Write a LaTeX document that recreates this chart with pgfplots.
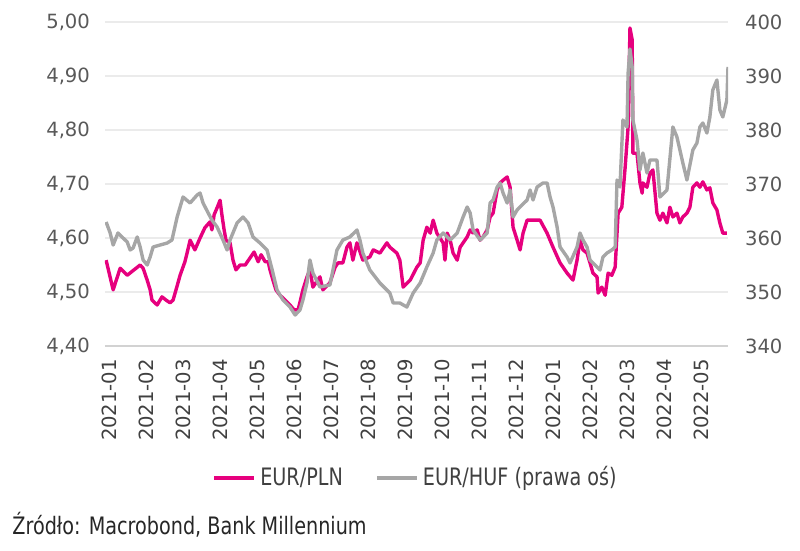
\documentclass[border=0pt]{standalone}
\usepackage{pgfplots}
\pgfplotsset{compat=1.18}
\usepackage{fontspec}
\setmainfont{DejaVu Sans}
\newfontfamily\condfont[FakeStretch=0.8]{DejaVu Sans}
\definecolor{pln}{RGB}{230,0,126}
\definecolor{huf}{RGB}{166,166,166}
\definecolor{ticktxt}{RGB}{89,89,89}
\definecolor{xtxt}{RGB}{64,64,64}
\definecolor{gridc}{RGB}{235,235,235}
\begin{document}
\begin{tikzpicture}
\path[use as bounding box] (0,0) rectangle (400pt,275.5pt);
\pgfplotsset{
  common/.style={
    scale only axis, width=311.5pt, height=162pt,
    at={(52.5pt,102.5pt)}, anchor=south west,
    xmin=-0.11, xmax=16.73,
    major tick length=0pt,
    tick label style={font=\fontsize{9.8}{12}\selectfont, text=ticktxt},
    /pgf/number format/assume math mode=true,
  }
}
\begin{axis}[common,
  ymin=4.40, ymax=5.00,
  ytick={4.40,4.50,4.60,4.70,4.80,4.90,5.00},
  yticklabel style={/pgf/number format/fixed, /pgf/number format/fixed zerofill, /pgf/number format/precision=2, /pgf/number format/use comma, xshift=-4pt},
  axis y line*=left, y axis line style={draw=none},
  axis x line*=bottom, x axis line style={draw=gray!35, line width=0.8pt},
  ymajorgrids, grid style={gridc, line width=0.8pt},
  xtick={0,...,16},
  xticklabels={2021-01,2021-02,2021-03,2021-04,2021-05,2021-06,2021-07,2021-08,2021-09,2021-10,2021-11,2021-12,2022-01,2022-02,2022-03,2022-04,2022-05},
  xticklabel style={rotate=90, anchor=east, xshift=-3pt, text=xtxt},
  legend columns=2,
  legend style={at={(0.5,-0.407)}, anchor=center, draw=none, fill=none,
    font=\condfont\fontsize{12}{14}\selectfont, text=xtxt,
    /tikz/every even column/.append style={column sep=14pt}},
  legend image code/.code={\draw[#1, line width=2pt] (0pt,0pt) -- (20pt,0pt);},
]
\addplot[pln, line width=1.7pt, line join=round] coordinates {
(-0.08,4.559)(0.11,4.504)(0.30,4.544)(0.49,4.531)(0.84,4.550)(0.92,4.544)(1.03,4.522)(1.11,4.504)(1.16,4.485)(1.30,4.476)(1.43,4.491)(1.54,4.485)(1.65,4.480)(1.73,4.485)(1.81,4.504)(1.92,4.531)(2.05,4.556)(2.14,4.581)(2.19,4.596)(2.32,4.578)(2.46,4.600)(2.59,4.619)(2.73,4.630)(2.78,4.615)(2.84,4.643)(2.95,4.661)(3.00,4.670)(3.05,4.643)(3.11,4.615)(3.16,4.596)(3.27,4.591)(3.35,4.559)(3.43,4.541)(3.54,4.550)(3.68,4.550)(3.81,4.563)(3.92,4.574)(4.03,4.556)(4.11,4.569)(4.22,4.556)(4.30,4.556)(4.35,4.541)(4.43,4.522)(4.51,4.504)(4.62,4.494)(4.76,4.485)(4.89,4.476)(5.00,4.467)(5.11,4.467)(5.16,4.481)(5.24,4.504)(5.35,4.528)(5.43,4.541)(5.51,4.509)(5.70,4.528)(5.78,4.504)(5.97,4.517)(6.11,4.546)(6.19,4.554)(6.32,4.554)(6.43,4.583)(6.51,4.591)(6.59,4.559)(6.70,4.591)(6.86,4.559)(7.05,4.565)(7.14,4.578)(7.32,4.572)(7.51,4.591)(7.59,4.583)(7.78,4.572)(7.86,4.559)(7.95,4.509)(8.14,4.522)(8.32,4.546)(8.41,4.554)(8.49,4.596)(8.59,4.620)(8.68,4.609)(8.76,4.633)(8.86,4.609)(9.03,4.591)(9.08,4.559)(9.14,4.609)(9.22,4.596)(9.30,4.572)(9.41,4.559)(9.49,4.583)(9.68,4.602)(9.76,4.615)(9.84,4.609)(9.95,4.615)(10.03,4.596)(10.11,4.602)(10.22,4.615)(10.30,4.639)(10.38,4.646)(10.49,4.689)(10.57,4.702)(10.65,4.707)(10.76,4.713)(10.84,4.694)(10.92,4.620)(11.03,4.596)(11.11,4.578)(11.19,4.609)(11.30,4.633)(11.46,4.633)(11.65,4.633)(11.84,4.609)(12.00,4.583)(12.19,4.554)(12.38,4.535)(12.54,4.522)(12.65,4.559)(12.73,4.596)(12.81,4.578)(12.92,4.572)(13.00,4.554)(13.08,4.535)(13.19,4.528)(13.22,4.498)(13.32,4.509)(13.41,4.494)(13.49,4.535)(13.59,4.531)(13.68,4.546)(13.76,4.646)(13.86,4.657)(13.95,4.731)(14.03,4.806)(14.08,4.989)(14.14,4.967)(14.16,4.757)(14.27,4.757)(14.35,4.702)(14.41,4.683)(14.43,4.702)(14.54,4.694)(14.62,4.720)(14.70,4.726)(14.81,4.646)(14.89,4.633)(14.97,4.646)(15.08,4.628)(15.16,4.657)(15.24,4.639)(15.35,4.646)(15.43,4.628)(15.51,4.639)(15.62,4.646)(15.70,4.657)(15.78,4.694)(15.89,4.702)(15.97,4.694)(16.05,4.704)(16.16,4.689)(16.24,4.693)(16.32,4.665)(16.43,4.652)(16.51,4.628)(16.59,4.609)(16.70,4.609)
};
\addlegendentry{EUR/PLN}
\addlegendimage{huf}
\addlegendentry{EUR/HUF (prawa oś)}
\end{axis}
\begin{axis}[common,
  ymin=340, ymax=400,
  ytick={340,350,...,400},
  yticklabel style={xshift=5pt},
  axis y line*=right, y axis line style={draw=none},
  axis x line=none,
]
\addplot[huf, line width=1.7pt, line join=round] coordinates {
(-0.08,362.96)(0.03,360.93)(0.11,358.70)(0.24,360.93)(0.35,360.19)(0.49,359.26)(0.57,357.78)(0.65,358.15)(0.76,360.19)(0.84,358.33)(0.92,355.93)(1.03,355.00)(1.11,356.48)(1.19,358.33)(1.38,358.70)(1.57,359.07)(1.70,359.63)(1.84,363.89)(2.00,367.59)(2.19,366.48)(2.38,367.96)(2.46,368.33)(2.54,366.48)(2.68,364.63)(2.78,363.33)(2.92,362.04)(3.08,359.63)(3.19,357.78)(3.27,359.63)(3.46,362.78)(3.62,363.89)(3.76,362.78)(3.89,360.19)(4.08,359.07)(4.27,357.78)(4.41,354.07)(4.54,350.37)(4.70,348.52)(4.89,347.22)(5.03,345.74)(5.16,346.67)(5.24,348.52)(5.35,351.67)(5.43,355.93)(5.51,353.52)(5.70,350.93)(5.97,351.30)(6.16,357.78)(6.32,359.63)(6.51,360.19)(6.70,361.48)(6.78,359.63)(6.86,357.22)(7.05,354.07)(7.32,351.67)(7.59,349.81)(7.68,347.96)(7.86,347.96)(8.05,347.22)(8.22,349.81)(8.41,351.67)(8.59,354.63)(8.76,357.22)(8.86,359.63)(9.03,360.93)(9.22,359.63)(9.41,360.93)(9.57,363.89)(9.68,365.74)(9.76,364.63)(9.84,361.48)(10.03,359.63)(10.22,360.93)(10.30,366.48)(10.38,367.04)(10.49,369.44)(10.57,370.19)(10.65,368.33)(10.76,366.48)(10.84,368.89)(10.92,363.89)(11.03,365.19)(11.11,365.74)(11.30,367.04)(11.38,368.89)(11.46,367.04)(11.57,369.44)(11.73,370.19)(11.84,370.19)(11.92,367.59)(12.00,365.74)(12.11,362.04)(12.19,358.33)(12.38,356.48)(12.46,355.37)(12.65,358.33)(12.73,360.93)(12.81,359.63)(12.92,358.33)(13.00,355.93)(13.08,355.37)(13.27,354.07)(13.35,356.48)(13.46,357.22)(13.59,357.78)(13.68,358.33)(13.73,370.74)(13.81,369.44)(13.89,381.85)(14.00,380.56)(14.03,390.56)(14.08,395.0)(14.14,391.67)(14.16,381.85)(14.27,378.15)(14.35,372.59)(14.43,375.74)(14.54,372.04)(14.62,374.44)(14.81,374.44)(14.89,367.59)(15.08,368.89)(15.24,380.56)(15.35,378.70)(15.51,373.89)(15.62,370.74)(15.78,376.30)(15.89,377.59)(15.97,380.56)(16.05,381.30)(16.16,379.44)(16.24,382.41)(16.32,387.41)(16.43,389.26)(16.51,383.70)(16.59,382.41)(16.70,385.56)(16.73,391.67)
};
\end{axis}
\node[anchor=west, font=\condfont\fontsize{12}{14}\selectfont, text=black!85, inner sep=0pt] at (6pt,13pt) {Źródło: Macrobond, Bank Millennium};
\end{tikzpicture}
\end{document}
